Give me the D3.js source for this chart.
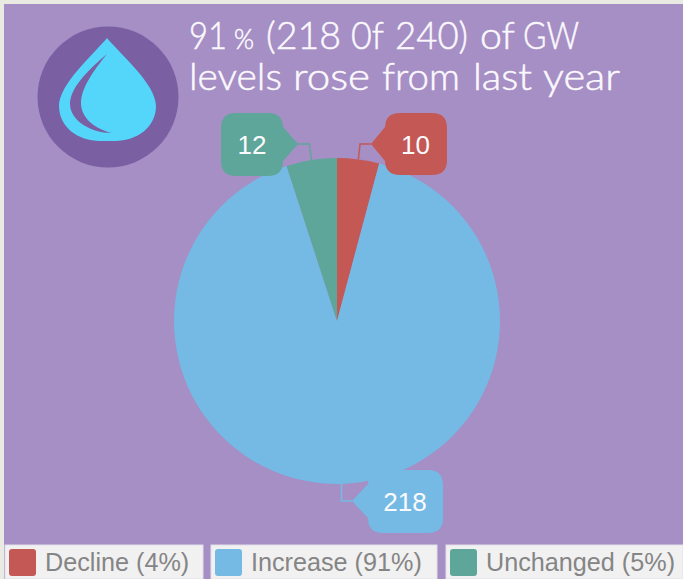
<!DOCTYPE html>
<html><head><meta charset="utf-8">
<script src="https://cdnjs.cloudflare.com/ajax/libs/d3/7.8.5/d3.min.js"></script>
<style>html,body{margin:0;padding:0;background:#e9ebe2;overflow:hidden}svg{display:block}</style>
</head><body><svg id="c" width="683" height="579"></svg>
<script>
const categories = ["Decline", "Increase", "Unchanged"];
const values = [10, 218, 12];
const percents = ["4%", "91%", "5%"];
const colors = ["#c35855", "#74bae4", "#5ea699"];
const titleWords = [
  {t:"91",x:189,w:38,y:49,s:37},{t:"%",x:234,w:20,y:49,s:27},{t:"(218",x:266,w:75,y:49,s:37},
  {t:"0f",x:351,w:33,y:49,s:37},{t:"240)",x:395,w:73,y:49,s:37},{t:"of",x:480,w:35,y:49,s:37},{t:"GW",x:523,w:56,y:49,s:37},
  {t:"levels",x:189,w:93,y:90,s:37},{t:"rose",x:293,w:77,y:90,s:37},{t:"from",x:382,w:78,y:90,s:37},
  {t:"last",x:473,w:59,y:90,s:37},{t:"year",x:543,w:77,y:90,s:37}
];

const svg = d3.select("#c");
svg.append("rect").attr("x",4).attr("y",4).attr("width",679).attr("height",575).attr("fill","#a58fc4");

// icon
const icon = svg.append("g");
icon.append("circle").attr("cx",108).attr("cy",97).attr("r",70.5).attr("fill","#7a5fa3");
icon.append("path").attr("fill","#54d6fb")
  .attr("d","M107 38 C120 54 156 84 156 106 C156 127 137 141 115 141 L100 141 C78 141 59 127 59 106 C59 84 94 54 107 38Z");
icon.append("path").attr("fill","#7a5fa3")
  .attr("d","M107 54 C88 70 70 88 70 104 C70 120 90 133 112 133 C95 129 81 118 81 103 C81 88 94 70 107 54Z");

// title
svg.append("g").attr("font-family","Lato, 'Open Sans', sans-serif").attr("font-weight",300).attr("fill","#fbf8fd")
  .attr("stroke","#fbf8fd").attr("stroke-width",0.5)
  .selectAll("text").data(titleWords).join("text")
  .attr("x",d=>d.x).attr("y",d=>d.y).attr("font-size",d=>d.s)
  .attr("textLength",d=>d.w).attr("lengthAdjust","spacingAndGlyphs").text(d=>d.t);

// pie
const cx = 337, cy = 321, R = 163;
const pie = d3.pie().sort(null)(values);
const arc = d3.arc().innerRadius(0).outerRadius(R);
const chart = svg.append("g").attr("transform",`translate(${cx},${cy})`);
chart.selectAll("path").data(pie).join("path").attr("d",arc).attr("fill",(d,i)=>colors[i]);

// callouts
const callouts = [
  {x:385,y:113,w:62,h:62,tipx:371,tipy:144,side:"l"},
  {x:368,y:470,w:75,h:63,tipx:352,tipy:501,side:"l"},
  {x:221,y:113,w:62,h:63,tipx:298,tipy:144,side:"r"}
];
const lab = svg.append("g");
callouts.forEach((c,i)=>{
  const mid=(pie[i].startAngle+pie[i].endAngle)/2;
  const ex=cx+Math.sin(mid)*R, ey=cy-Math.cos(mid)*R;
  const knee = i===1 ? [cx+4.5, c.tipy] : [cx+Math.sin(mid)*(R+14), c.tipy];
  const sx = i===1 ? cx+4.5 : ex;
  lab.append("path").attr("fill","none").attr("stroke",colors[i]).attr("stroke-width",1.5)
    .attr("d",d3.line()([[sx,ey],knee,[c.tipx,c.tipy]]));
  const r=15, {x,y,w,h}=c, tx=c.tipx, ty=c.tipy, b=17;
  let d;
  if(c.side==="l"){
    d=`M${x+r} ${y}H${x+w-r}Q${x+w} ${y} ${x+w} ${y+r}V${y+h-r}Q${x+w} ${y+h} ${x+w-r} ${y+h}H${x+r}Q${x} ${y+h} ${x} ${y+h-r}V${ty+b}L${tx} ${ty}L${x} ${ty-b}V${y+r}Q${x} ${y} ${x+r} ${y}Z`;
  } else {
    d=`M${x+r} ${y}H${x+w-r}Q${x+w} ${y} ${x+w} ${y+r}V${ty-b}L${tx} ${ty}L${x+w} ${ty+b}V${y+h-r}Q${x+w} ${y+h} ${x+w-r} ${y+h}H${x+r}Q${x} ${y+h} ${x} ${y+h-r}V${y+r}Q${x} ${y} ${x+r} ${y}Z`;
  }
  lab.append("path").attr("d",d).attr("fill",colors[i]);
  lab.append("text").attr("x",x+w/2+(i===2?0:-0.5)).attr("y",y+h/2+9.5).attr("text-anchor","middle")
    .attr("font-family","Liberation Sans, Arial, sans-serif").attr("font-size",26).attr("fill","#fbfbfd").text(values[i]);
});

// legend
const legendBoxes=[[5,198],[211,226],[446,237]];
const lg=svg.append("g").selectAll("g").data(categories).join("g");
lg.append("rect").attr("x",(d,i)=>legendBoxes[i][0]).attr("y",545).attr("width",(d,i)=>legendBoxes[i][1]).attr("height",34)
  .attr("fill","#f1f1f1").attr("stroke","#e3deea");
lg.append("rect").attr("x",(d,i)=>legendBoxes[i][0]+4).attr("y",549).attr("width",27).attr("height",27).attr("rx",3).attr("fill",(d,i)=>colors[i]);
lg.append("text").attr("x",(d,i)=>legendBoxes[i][0]+40).attr("y",571)
  .attr("font-family","Liberation Sans, Arial, sans-serif").attr("font-size",25.2).attr("fill","#858585")
  .text((d,i)=>`${d} (${percents[i]})`);
</script></body></html>
